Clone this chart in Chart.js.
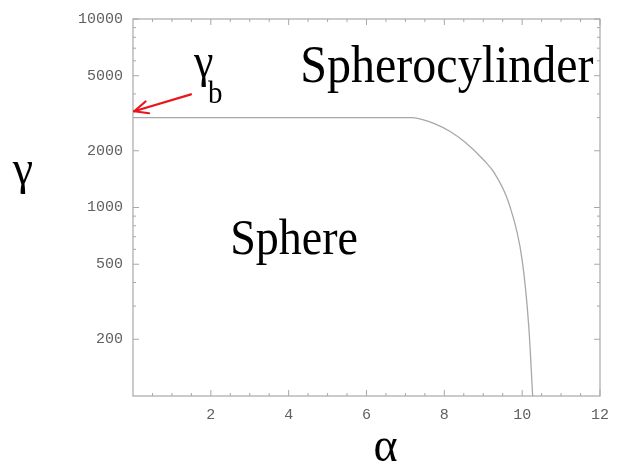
<!DOCTYPE html>
<html>
<head>
<meta charset="utf-8">
<script src="https://cdn.jsdelivr.net/npm/chart.js@4"></script>
<style>
  html, body { margin: 0; padding: 0; background: #fff; }
  #wrap { width: 619px; height: 468px; }
</style>
</head>
<body>
<div id="wrap"><canvas id="chart" width="619" height="468"></canvas></div>
<script>
// phase boundary gamma(alpha)
const alphaVals = [0, 7.18, 7.46, 7.76, 8.14, 8.52, 9.03, 9.28, 9.66, 10.0, 10.17, 10.27];
const gammaVals = [3000, 3000, 2920, 2780, 2540, 2230, 1770, 1530, 1050, 526, 233, 100];

const xTickVals = [2, 4, 6, 8, 10, 12];
const xMinorVals = [0.5, 1, 1.5, 2.5, 3, 3.5, 4.5, 5, 5.5, 6.5, 7, 7.5, 8.5, 9, 9.5, 10.5, 11, 11.5];
const yTickVals = [200, 500, 1000, 2000, 5000, 10000];
const yMinorVals = [300, 400, 600, 700, 800, 900, 3000, 4000, 6000, 7000, 8000, 9000];

// annotations (in data units)
const labels = [
  { text: 'Spherocylinder', x: 4.30, y: 4660, size: 48 },
  { text: 'Sphere', x: 2.50, y: 566, size: 46 },
  { text: 'γ', x: 1.57, y: 4950, size: 44 },
  { text: 'b', x: 1.93, y: 3570, size: 29 },
];
const arrowFrom = { x: 1.49, y: 3980 };
const arrowTo = { x: 0.03, y: 3240 };

const frameColor = '#a8a8a8';

const framePlugin = {
  id: 'frame',
  afterDraw(chart) {
    const { ctx, chartArea: a, scales: { x, y } } = chart;
    ctx.save();
    ctx.strokeStyle = frameColor;
    ctx.lineWidth = 1.2;
    ctx.strokeRect(a.left, a.top, a.right - a.left, a.bottom - a.top);

    ctx.lineWidth = 1;
    const tick = (x1, y1, x2, y2) => {
      ctx.beginPath(); ctx.moveTo(x1, y1); ctx.lineTo(x2, y2); ctx.stroke();
    };
    xTickVals.forEach(v => {
      const px = x.getPixelForValue(v);
      tick(px, a.bottom, px, a.bottom - 6);
      tick(px, a.top, px, a.top + 6);
    });
    xMinorVals.forEach(v => {
      const px = x.getPixelForValue(v);
      tick(px, a.bottom, px, a.bottom - 3);
      tick(px, a.top, px, a.top + 3);
    });
    yTickVals.forEach(v => {
      const py = y.getPixelForValue(v);
      tick(a.left, py, a.left + 6, py);
      tick(a.right, py, a.right - 6, py);
    });
    yMinorVals.forEach(v => {
      const py = y.getPixelForValue(v);
      tick(a.left, py, a.left + 3, py);
      tick(a.right, py, a.right - 3, py);
    });

    // text labels
    ctx.fillStyle = '#000';
    ctx.textBaseline = 'alphabetic';
    ctx.textAlign = 'left';
    labels.forEach(l => {
      const px = x.getPixelForValue(l.x), py = y.getPixelForValue(l.y);
      ctx.save();
      ctx.translate(px, py);
      ctx.scale(1, 1.1);
      ctx.font = `${l.size}px "Liberation Serif", "Times New Roman", serif`;
      ctx.fillText(l.text, 0, 0);
      ctx.restore();
    });

    // axis titles
    ctx.textAlign = 'center';
    ctx.save();
    ctx.translate(23, 184);
    ctx.scale(1, 1.05);
    ctx.font = '46px "Liberation Serif", "Times New Roman", serif';
    ctx.fillText('γ', 0, 0);
    ctx.restore();
    ctx.save();
    ctx.translate((a.left + a.right) / 2 + 19, 461);
    ctx.scale(1, 1.05);
    ctx.font = '46px "Liberation Serif", "Times New Roman", serif';
    ctx.fillText('α', 0, 0);
    ctx.restore();

    // red arrow to gamma_b
    const x0 = x.getPixelForValue(arrowFrom.x), y0 = y.getPixelForValue(arrowFrom.y);
    const x1 = x.getPixelForValue(arrowTo.x), y1 = y.getPixelForValue(arrowTo.y);
    const ang = Math.atan2(y1 - y0, x1 - x0);
    ctx.strokeStyle = '#e8161b';
    ctx.lineWidth = 2.2;
    ctx.lineCap = 'round';
    tick(x0, y0, x1, y1);
    const hl = 15, hw = 0.42;
    tick(x1, y1, x1 - hl * Math.cos(ang - hw), y1 - hl * Math.sin(ang - hw));
    tick(x1, y1, x1 - hl * Math.cos(ang + hw), y1 - hl * Math.sin(ang + hw));
    ctx.restore();
  }
};

const points = alphaVals.map((a, i) => ({ x: a, y: gammaVals[i] }));

new Chart(document.getElementById('chart').getContext('2d'), {
  type: 'scatter',
  data: {
    datasets: [{
      data: points,
      showLine: true,
      borderColor: '#a8a8a8',
      borderWidth: 1.3,
      pointRadius: 0,
      cubicInterpolationMode: 'monotone',
    }]
  },
  options: {
    responsive: false,
    animation: false,
    layout: { padding: { top: 15, right: 11, left: 0, bottom: 0 } },
    plugins: { legend: { display: false }, tooltip: { enabled: false } },
    scales: {
      x: {
        type: 'linear',
        min: 0, max: 12,
        afterBuildTicks: s => { s.ticks = xTickVals.map(v => ({ value: v })); },
        afterFit: s => { s.height = 72; },
        grid: { display: false, drawTicks: false },
        border: { display: false },
        ticks: {
          color: '#606060',
          padding: 10,
          font: { family: '"Liberation Mono", monospace', size: 15 },
          maxRotation: 0,
          callback: v => String(v),
        },
      },
      y: {
        type: 'logarithmic',
        min: 100, max: 10000,
        afterBuildTicks: s => { s.ticks = yTickVals.map(v => ({ value: v })); },
        afterFit: s => { s.width = 133; },
        grid: { display: false, drawTicks: false },
        border: { display: false },
        ticks: {
          color: '#606060',
          padding: 10,
          font: { family: '"Liberation Mono", monospace', size: 15 },
          callback: v => String(v),
        },
      }
    }
  },
  plugins: [framePlugin]
});
</script>
</body>
</html>
